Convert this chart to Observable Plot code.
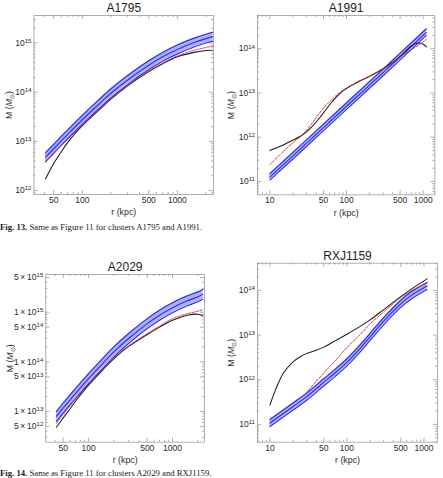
<!DOCTYPE html>
<html>
<head>
<meta charset="utf-8">
<script src="https://cdn.jsdelivr.net/npm/d3@7"></script>
<script src="https://cdn.jsdelivr.net/npm/@observablehq/plot@0.6"></script>
<style>
  body { margin: 0; background: #fff; }
  #page { position: relative; width: 443px; height: 478px; overflow: hidden; background: #fff; }
  .panel { position: absolute; }
  .panel svg { overflow: visible; }
  .caption { position: absolute; left: 0; font-family: "Liberation Serif", "Times New Roman", serif;
             font-size: 8.7px; line-height: 10px; color: #1a1a1a; white-space: nowrap; }
</style>
</head>
<body>
<div id="page"></div>
<script>
// ---- Mass profiles, log10(M / Msun) against radius r (kpc) ----

// A1795
const a1795_r     = [41, 50, 60, 75, 100, 150, 200, 300, 500, 700, 1000, 1500, 2000, 2370];
const a1795_upper = [12.77, 12.94, 13.10, 13.29, 13.53, 13.85, 14.07, 14.34, 14.64, 14.81, 14.96, 15.10, 15.18, 15.22];
const a1795_mid   = [12.68, 12.85, 13.01, 13.20, 13.44, 13.76, 13.98, 14.25, 14.55, 14.72, 14.87, 15.01, 15.09, 15.13];
const a1795_lower = [12.59, 12.76, 12.92, 13.11, 13.35, 13.67, 13.89, 14.16, 14.46, 14.63, 14.78, 14.92, 15.00, 15.04];
const a1795_black = [12.24, 12.55, 12.79, 13.05, 13.32, 13.64, 13.86, 14.13, 14.42, 14.58, 14.72, 14.81, 14.85, 14.85];
const a1795_red   = [12.58, 12.75, 12.91, 13.10, 13.33, 13.65, 13.87, 14.14, 14.43, 14.59, 14.74, 14.85, 14.91, 14.94];

// A1991
const a1991_rBand  = [10, 30, 100, 300, 1100];
const a1991_upper  = [11.18, 11.94, 12.78, 13.54, 14.45];
const a1991_mid    = [11.10, 11.86, 12.70, 13.46, 14.37];
const a1991_lower  = [11.03, 11.79, 12.63, 13.39, 14.30];
const a1991_rBlack = [10, 14, 18, 26, 35, 47, 64, 86, 128, 212, 350, 520, 700, 850, 1000, 1100];
const a1991_black  = [11.70, 11.80, 11.90, 12.04, 12.23, 12.49, 12.79, 13.02, 13.21, 13.40, 13.62, 13.85, 14.06, 14.13, 14.10, 14.04];
const a1991_rRed   = [10, 15, 20, 26, 35, 47, 64, 86, 128, 212, 350, 520, 700, 900, 1100];
const a1991_red    = [11.38, 11.68, 11.88, 12.04, 12.30, 12.60, 12.85, 13.04, 13.22, 13.40, 13.62, 13.84, 13.98, 14.10, 14.21];

// A2029
const a2029_r     = [41.5, 50, 60, 75, 100, 150, 200, 300, 500, 700, 1000, 1500, 2000, 2290];
const a2029_upper = [13.00, 13.17, 13.33, 13.52, 13.76, 14.08, 14.30, 14.57, 14.87, 15.04, 15.19, 15.33, 15.41, 15.46];
const a2029_mid   = [12.90, 13.07, 13.23, 13.42, 13.66, 13.98, 14.20, 14.47, 14.77, 14.94, 15.09, 15.23, 15.31, 15.36];
const a2029_lower = [12.80, 12.97, 13.13, 13.32, 13.56, 13.88, 14.10, 14.37, 14.67, 14.84, 14.99, 15.13, 15.21, 15.26];
const a2029_black = [12.68, 12.87, 13.05, 13.27, 13.53, 13.85, 14.06, 14.31, 14.55, 14.70, 14.84, 14.94, 14.96, 14.93];
const a2029_red   = [12.76, 12.94, 13.11, 13.31, 13.56, 13.87, 14.08, 14.32, 14.57, 14.72, 14.87, 14.97, 15.02, 15.05];

// RXJ1159
const rxj_rBand  = [10, 20, 30, 50, 70, 100, 150, 200, 300, 500, 700, 1100];
const rxj_upper  = [11.11, 11.48, 11.70, 12.02, 12.23, 12.47, 12.79, 13.04, 13.39, 13.78, 13.98, 14.18];
const rxj_mid    = [11.03, 11.40, 11.62, 11.94, 12.15, 12.39, 12.71, 12.96, 13.31, 13.70, 13.90, 14.10];
const rxj_lower  = [10.95, 11.32, 11.54, 11.86, 12.07, 12.31, 12.63, 12.88, 13.23, 13.62, 13.82, 14.02];
const rxj_rBlack = [10, 12, 15, 20, 25, 30, 40, 50, 70, 100, 150, 200, 300, 500, 700, 1100];
const rxj_black  = [11.43, 11.80, 12.15, 12.40, 12.52, 12.59, 12.66, 12.73, 12.87, 13.02, 13.20, 13.34, 13.57, 13.86, 14.04, 14.26];
const rxj_rRed   = [30, 50, 70, 100, 150, 200, 300, 500, 700, 1100];
const rxj_red    = [11.72, 12.15, 12.42, 12.72, 13.02, 13.25, 13.52, 13.84, 14.00, 14.17];

// ---- Tick labels ----
const xTicksWide   = [50, 100, 500, 1000];
const xTicksNarrow = [10, 50, 100, 500, 1000];
const yTicksA1795  = [1e12, 1e13, 1e14, 1e15];
const yTicksA1991  = [1e11, 1e12, 1e13, 1e14];
const yTicksA2029  = [5e12, 1e13, 5e13, 1e14, 5e14, 1e15, 5e15];
const yTicksRXJ    = [1e11, 1e12, 1e13, 1e14];

const captions = [
  {fig: "Fig. 13.", text: " Same as Figure 11 for clusters A1795 and A1991.", top: 222},
  {fig: "Fig. 14.", text: " Same as Figure 11 for clusters A2029 and RXJ1159.", top: 467.5}
];

const pow10 = v => Math.pow(10, v);
const decadeFmt = v => `10^${Math.round(Math.log10(v))}`;
const mantissaFmt = v => {
  const e = Math.floor(Math.log10(v) + 1e-9);
  const m = Math.round(v / Math.pow(10, e));
  return `${m}\u2009×\u200910^${e}`;
};

// Logarithmic sub-ticks (2..9 × 10^k) inside a domain
function logSubTicks([a, b], major) {
  const out = [];
  for (let e = Math.floor(Math.log10(a)); e <= Math.ceil(Math.log10(b)); e++) {
    for (let m = 1; m <= 9; m++) {
      const v = m * Math.pow(10, e);
      if (v >= a && v <= b && !major.some(t => Math.abs(t / v - 1) < 1e-9)) out.push(v);
    }
  }
  return out;
}

const FONT = '"Liberation Sans", Arial, Helvetica, sans-serif';
const BAND_FILL = "#adb2f7";
const BAND_LINE = "#2d2df0";

function panel(cfg) {
  const {left, top, width, height, mt, mr, mb, ml} = cfg;
  const fh = height - mt - mb, fw = width - ml - mr;
  const band = cfg.bandR.map((r, i) => ({r, lo: pow10(cfg.lower[i]), mid: pow10(cfg.mid[i]), hi: pow10(cfg.upper[i])}));
  const black = cfg.blackR.map((r, i) => ({r, m: pow10(cfg.black[i])}));
  const red = cfg.redR.map((r, i) => ({r, m: pow10(cfg.red[i])}));
  const xMinor = logSubTicks(cfg.xDomain, cfg.xTicks);
  const yMinor = logSubTicks(cfg.yDomain, cfg.yTicks);
  const xMajor = cfg.xTicks.filter(v => v >= cfg.xDomain[0] && v <= cfg.xDomain[1]);
  const yMajor = cfg.yTicks.filter(v => v >= cfg.yDomain[0] && v <= cfg.yDomain[1]);
  const tickStyle = {stroke: "#8c8c8c", strokeWidth: 0.7};
  const curve = "catmull-rom";

  const svg = Plot.plot({
    width, height,
    marginTop: mt, marginRight: mr, marginBottom: mb, marginLeft: ml,
    x: {type: "log", domain: cfg.xDomain, label: null, axis: null},
    y: {type: "log", domain: cfg.yDomain, label: null, axis: null},
    style: {fontFamily: FONT, fontSize: "8.5px", color: "#2a2a2a", background: "transparent"},
    marks: [
      Plot.areaY(band, {x: "r", y1: "lo", y2: "hi", fill: BAND_FILL, curve}),
      Plot.line(band, {x: "r", y: "lo", stroke: BAND_LINE, strokeWidth: 1.15, curve}),
      Plot.line(band, {x: "r", y: "hi", stroke: BAND_LINE, strokeWidth: 1.15, curve}),
      Plot.line(band, {x: "r", y: "mid", stroke: BAND_LINE, strokeWidth: 1.15, curve}),
      Plot.line(black, {x: "r", y: "m", stroke: "#1c1c1c", strokeWidth: 1.05, curve}),
      Plot.line(red, {x: "r", y: "m", stroke: "#d42828", strokeWidth: 0.9, strokeDasharray: "2.4,1.4", curve}),
      Plot.frame({stroke: "#a6a6a6", strokeWidth: 0.9}),
      // inward ticks on all four sides
      Plot.tickX(xMajor, {x: d => d, insetTop: fh - 4, ...tickStyle}),
      Plot.tickX(xMajor, {x: d => d, insetBottom: fh - 4, ...tickStyle}),
      Plot.tickX(xMinor, {x: d => d, insetTop: fh - 2, ...tickStyle}),
      Plot.tickX(xMinor, {x: d => d, insetBottom: fh - 2, ...tickStyle}),
      Plot.tickY(yMajor, {y: d => d, insetRight: fw - 4, ...tickStyle}),
      Plot.tickY(yMajor, {y: d => d, insetLeft: fw - 4, ...tickStyle}),
      Plot.tickY(yMinor, {y: d => d, insetRight: fw - 2, ...tickStyle}),
      Plot.tickY(yMinor, {y: d => d, insetLeft: fw - 2, ...tickStyle}),
      // tick labels
      Plot.text(xMajor, {x: d => d, text: d => String(d), frameAnchor: "bottom", lineAnchor: "top", textAnchor: "middle", dy: 2.5, fill: "#2a2a2a"}),
      Plot.text(yMajor, {y: d => d, text: cfg.yFmt, frameAnchor: "left", lineAnchor: "middle", textAnchor: "end", dx: -2.5, fill: "#2a2a2a"}),
      // titles
      Plot.text([cfg.title], {text: d => d, frameAnchor: "top", lineAnchor: "middle", textAnchor: "middle", dy: -7.5, fontSize: 12, fill: "#1e1e1e"}),
      Plot.text(["r (kpc)"], {text: d => d, frameAnchor: "bottom", lineAnchor: "middle", textAnchor: "middle", dy: 18, fontSize: 8.8}),
      Plot.text(["M (M_sun)"], {text: d => d, frameAnchor: "left", lineAnchor: "middle", textAnchor: "middle", dx: cfg.yLabelDx, rotate: -90, fontSize: 8.8})
    ]
  });

  // superscript exponents and the solar-mass subscript
  d3.select(svg).selectAll("text").each(function () {
    const t = this.textContent;
    const sel = d3.select(this);
    if (this.children.length === 0 && t.includes("^")) {
      const [base, exp] = t.split("^");
      sel.text(base);
      sel.append("tspan").attr("font-size", "0.72em").attr("dy", "-0.48em").text(exp);
    } else if (t === "M (M_sun)") {
      sel.text("M (");
      sel.append("tspan").attr("font-style", "italic").text("M");
      sel.append("tspan").attr("font-size", "0.72em").attr("dy", "2px").text("\u2299");
      sel.append("tspan").attr("dy", "-2px").text(")");
    }
  });

  const div = document.createElement("div");
  div.className = "panel";
  div.style.left = left + "px";
  div.style.top = top + "px";
  div.appendChild(svg);
  return div;
}

const page = document.getElementById("page");

const configs = [
  {title: "A1795", left: 0, top: 0, width: 221, height: 222, mt: 15, mr: 8, mb: 28, ml: 33.5,
   xDomain: [31, 2400], yDomain: [pow10(11.92), pow10(15.56)], xTicks: xTicksWide, yTicks: yTicksA1795,
   yFmt: decadeFmt, yLabelDx: -25,
   bandR: a1795_r, upper: a1795_upper, mid: a1795_mid, lower: a1795_lower,
   blackR: a1795_r, black: a1795_black, redR: a1795_r, red: a1795_red},
  {title: "A1991", left: 221, top: 0, width: 222, height: 222, mt: 15, mr: 8.7, mb: 27.7, ml: 36,
   xDomain: [6.9, 1416], yDomain: [pow10(10.70), pow10(14.75)], xTicks: xTicksNarrow, yTicks: yTicksA1991,
   yFmt: decadeFmt, yLabelDx: -26,
   bandR: a1991_rBand, upper: a1991_upper, mid: a1991_mid, lower: a1991_lower,
   blackR: a1991_rBlack, black: a1991_black, redR: a1991_rRed, red: a1991_red},
  {title: "A2029", left: 0, top: 240, width: 221, height: 230, mt: 34, mr: 17, mb: 28.3, ml: 45.3,
   xDomain: [31, 2400], yDomain: [pow10(12.38), pow10(15.76)], xTicks: xTicksWide, yTicks: yTicksA2029,
   yFmt: mantissaFmt, yLabelDx: -35.3,
   bandR: a2029_r, upper: a2029_upper, mid: a2029_mid, lower: a2029_lower,
   blackR: a2029_r, black: a2029_black, redR: a2029_r, red: a2029_red},
  {title: "RXJ1159", left: 221, top: 240, width: 222, height: 230, mt: 22.7, mr: 6, mb: 28.3, ml: 36,
   xDomain: [6.9, 1500], yDomain: [pow10(10.60), pow10(14.61)], xTicks: xTicksNarrow, yTicks: yTicksRXJ,
   yFmt: decadeFmt, yLabelDx: -26,
   bandR: rxj_rBand, upper: rxj_upper, mid: rxj_mid, lower: rxj_lower,
   blackR: rxj_rBlack, black: rxj_black, redR: rxj_rRed, red: rxj_red}
];

configs.forEach(c => page.appendChild(panel(c)));

captions.forEach(c => {
  const div = document.createElement("div");
  div.className = "caption";
  div.style.top = c.top + "px";
  const b = document.createElement("b");
  b.textContent = c.fig;
  div.appendChild(b);
  div.appendChild(document.createTextNode(c.text));
  page.appendChild(div);
});
</script>
</body>
</html>
